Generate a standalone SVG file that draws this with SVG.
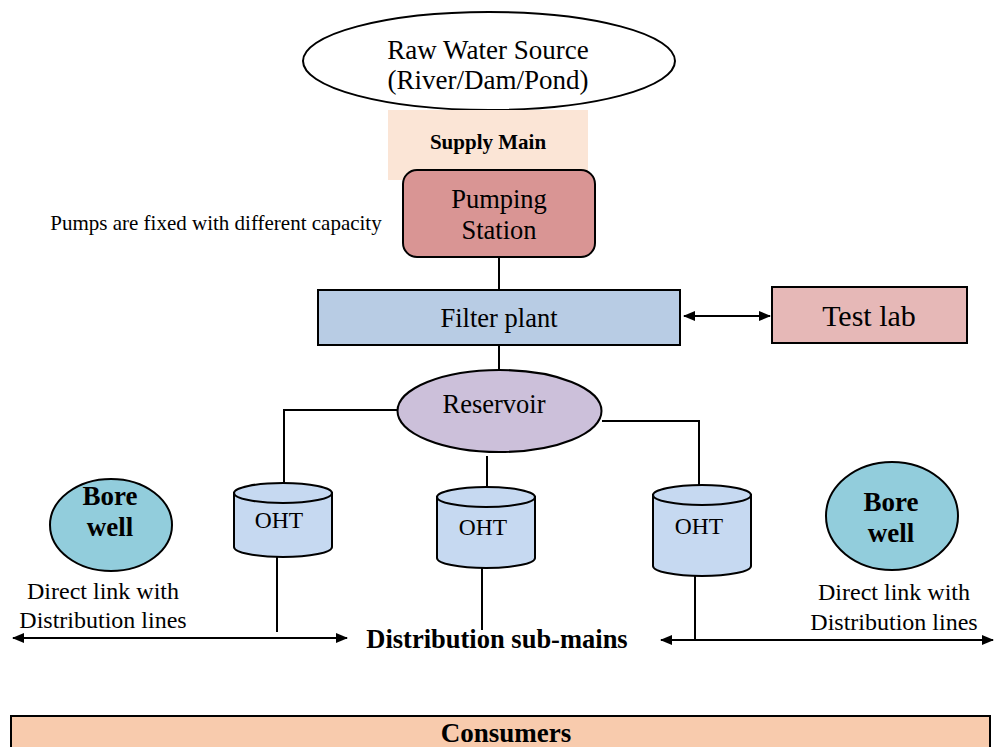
<svg xmlns="http://www.w3.org/2000/svg" width="994" height="747" viewBox="0 0 994 747">
<defs>
<marker id="ah" viewBox="0 0 12 10" refX="11" refY="5" markerWidth="12" markerHeight="10" markerUnits="userSpaceOnUse" orient="auto-start-reverse">
<path d="M0,0 L12,5 L0,10 Z" fill="#000"/>
</marker>
<style>
text{font-family:"Liberation Serif","Times New Roman",serif;fill:#000;text-anchor:middle}
.b{font-weight:bold}
.sh{stroke:#000;stroke-width:2}
.ln{stroke:#000;stroke-width:2;fill:none}
.oht{fill:#c6d9f1;stroke:#000;stroke-width:2}
</style>
</defs>
<rect width="994" height="747" fill="#fff"/>

<g id="connectors">
<line class="ln" x1="499" y1="257" x2="499" y2="290"/>
<line class="ln" x1="499" y1="345" x2="499" y2="370"/>
<line class="ln" x1="684" y1="316" x2="770" y2="316" marker-start="url(#ah)" marker-end="url(#ah)"/>
<polyline class="ln" points="397,410 284,410 284,490"/>
<line class="ln" x1="487" y1="456" x2="487" y2="504"/>
<polyline class="ln" points="602,421 699,421 699,490"/>
<line class="ln" x1="277" y1="557" x2="277" y2="632"/>
<line class="ln" x1="482" y1="568" x2="482" y2="630"/>
<line class="ln" x1="695" y1="576" x2="695" y2="640"/>
<line class="ln" x1="13" y1="638" x2="347" y2="638" marker-start="url(#ah)" marker-end="url(#ah)"/>
<line class="ln" x1="661" y1="640" x2="993" y2="640" marker-start="url(#ah)" marker-end="url(#ah)"/>
</g>

<g id="raw-water-source">
<ellipse cx="489" cy="61" rx="186" ry="49" fill="#fff" class="sh"/>
<text x="488" y="59" font-size="27">Raw Water Source</text>
<text x="488" y="89" font-size="27">(River/Dam/Pond)</text>
</g>

<g id="supply-main">
<rect x="388" y="110" width="200" height="70" fill="#fbe5d6"/>
<text x="488" y="149" font-size="21" class="b">Supply Main</text>
</g>

<g id="pumping-station">
<rect x="403" y="170" width="192" height="87" rx="14" fill="#d99594" class="sh"/>
<text x="499" y="208" font-size="26.5">Pumping</text>
<text x="499" y="239" font-size="26.5">Station</text>
</g>

<g id="pumps-note">
<text x="216" y="230" font-size="21">Pumps are fixed with different capacity</text>
</g>

<g id="filter-plant">
<rect x="318" y="290" width="362" height="55" fill="#b8cce4" class="sh"/>
<text x="499" y="327" font-size="26.5">Filter plant</text>
</g>

<g id="test-lab">
<rect x="772" y="287" width="195" height="56" fill="#e6b8b7" class="sh"/>
<text x="869" y="326" font-size="30">Test lab</text>
</g>

<g id="reservoir">
<ellipse cx="499.5" cy="411" rx="102" ry="41" fill="#ccc0da" class="sh"/>
<text x="494" y="413" font-size="26.5">Reservoir</text>
</g>

<g id="oht-left">
<path class="oht" d="M234,493 L234,547 A49,10 0 0 0 332,547 L332,493 Z"/>
<ellipse cx="283" cy="493" rx="49" ry="10" class="oht"/>
<text x="279" y="528" font-size="23.5">OHT</text>
</g>

<g id="oht-middle">
<path class="oht" d="M437,497 L437,558 A49,10 0 0 0 535,558 L535,497 Z"/>
<ellipse cx="486" cy="497" rx="49" ry="10" class="oht"/>
<text x="483" y="535" font-size="23.5">OHT</text>
</g>

<g id="oht-right">
<path class="oht" d="M653,495 L653,566 A49,10 0 0 0 751,566 L751,495 Z"/>
<ellipse cx="702" cy="495" rx="49" ry="10" class="oht"/>
<text x="699" y="534" font-size="23.5">OHT</text>
</g>

<g id="bore-well-left">
<ellipse cx="111" cy="525" rx="61" ry="46" fill="#92cddc" class="sh"/>
<text x="110" y="505" font-size="27" class="b">Bore</text>
<text x="110" y="536" font-size="27" class="b">well</text>
</g>

<g id="bore-well-right">
<ellipse cx="892" cy="516" rx="66" ry="54" fill="#92cddc" class="sh"/>
<text x="891" y="511" font-size="27" class="b">Bore</text>
<text x="891" y="542" font-size="27" class="b">well</text>
</g>

<g id="labels">
<text x="103" y="599" font-size="24">Direct link with</text>
<text x="103" y="628" font-size="24">Distribution lines</text>
<text x="894" y="600" font-size="24">Direct link with</text>
<text x="894" y="630" font-size="24">Distribution lines</text>
<text x="497" y="648" font-size="26.5" class="b">Distribution sub-mains</text>
</g>

<g id="consumers">
<rect x="11" y="716" width="979" height="40" fill="#f8cbad" class="sh"/>
<text x="506" y="742" font-size="27" class="b">Consumers</text>
</g>
</svg>
